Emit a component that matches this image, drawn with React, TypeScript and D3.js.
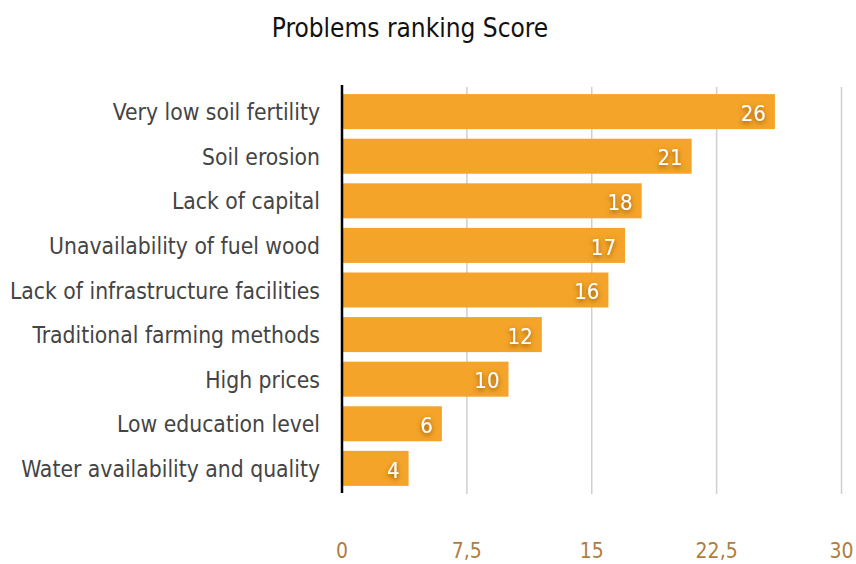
import React from "react";
import * as d3 from "d3";

const categories = [
  "Very low soil fertility ",
  "Soil erosion",
  "Lack of capital",
  "Unavailability of fuel wood",
  "Lack of infrastructure facilities",
  "Traditional farming methods",
  "High prices",
  "Low education level",
  "Water availability and quality",
];
const values = [26, 21, 18, 17, 16, 12, 10, 6, 4];
const tickValues = [0, 7.5, 15, 22.5, 30];
const tickLabels = ["0", "7,5", "15", "22,5", "30"];
const title = "Problems ranking Score";

const W = 856;
const H = 564;
const FONT = "'Liberation Sans Narrow', 'DejaVu Sans Condensed', 'Open Sans', sans-serif";

export default function App() {
  const x = d3.scaleLinear().domain([0, 30]).range([342, 841.5]);
  const y = d3
    .scaleBand<string>()
    .domain(categories)
    .range([88, 492])
    .paddingInner(0.215)
    .paddingOuter(0.137);
  const bw = y.bandwidth();

  return (
    <svg
      width={W}
      height={H}
      style={{ position: "absolute", left: 0, top: 0, background: "#fff" }}
      fontFamily={FONT}
    >
      <defs>
        <filter id="glow" x="-50%" y="-50%" width="200%" height="200%">
          <feDropShadow dx="0" dy="2" stdDeviation="2.5" floodColor="#7a4500" floodOpacity="0.85" />
        </filter>
      </defs>
      <text x={410} y={37} textAnchor="middle" fontSize={26} fill="#111">
        {title}
      </text>
      {tickValues.slice(1).map((t) => (
        <line key={t} x1={x(t)} x2={x(t)} y1={87} y2={494} stroke="#cfcfcf" strokeWidth={1.5} />
      ))}
      {categories.map((c, i) => (
        <g key={c}>
          <rect x={x(0)} y={y(c)} width={x(values[i]) - x(0)} height={bw} fill="#f4a428" />
          <text
            x={320}
            y={(y(c) as number) + bw / 2}
            dy="0.38em"
            textAnchor="end"
            fontSize={22.7}
            fill="#444"
          >
            {c}
          </text>
          <text
            x={x(values[i]) - 9}
            y={(y(c) as number) + bw / 2}
            dy="0.42em"
            textAnchor="end"
            fontSize={22}
            fill="#fff"
            filter="url(#glow)"
          >
            {values[i]}
          </text>
        </g>
      ))}
      <line x1={x(0)} x2={x(0)} y1={85} y2={493} stroke="#000" strokeWidth={2.5} />
      {tickValues.map((t, i) => (
        <text key={t} x={x(t)} y={558} textAnchor="middle" fontSize={21} fill="#b07d3f">
          {tickLabels[i]}
        </text>
      ))}
    </svg>
  );
}
